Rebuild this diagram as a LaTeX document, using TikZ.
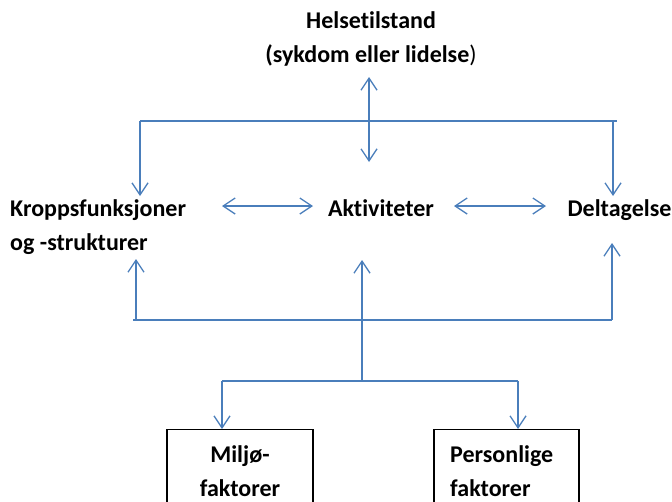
\documentclass[tikz,border=0pt]{standalone}
\usepackage{fontspec}
\setmainfont{Carlito}[Ligatures=NoCommon]
\usetikzlibrary{arrows.meta}
\definecolor{lineblue}{HTML}{4A7EBB}
\begin{document}
\begin{tikzpicture}[x=1pt,y=-1pt,
  conn/.style={draw=lineblue, line width=1.3pt},
  tipend/.tip={Straight Barb[length=12pt,width=16pt]},
  arr/.style={conn, -tipend},
  darr/.style={conn, tipend-tipend},
  lab/.style={font=\bfseries\fontsize{24}{34}\selectfont, inner sep=0pt},
  boxnode/.style={draw=black, line width=1.3pt, minimum height=100pt, anchor=north, inner sep=0pt}]
\useasboundingbox (0,0) rectangle (672,501);
\clip (0,0) rectangle (672,501);

% texts (base anchor = baseline of the last line)
\node[lab, anchor=base, align=center] (helse) at (371,62) {Helsetilstand\\(sykdom eller lidelse{\mdseries)}};
\node[lab, anchor=base west, align=left] (kropp) at (10,250) {Kroppsfunksjoner\\og -strukturer};
\node[lab, anchor=base] (akt) at (381,216) {Aktiviteter};
\node[lab, anchor=base] (delt) at (619.5,216) {Deltagelse};

% boxes
\node[boxnode, minimum width=146pt] (miljobox) at (240,429) {};
\node[boxnode, minimum width=145pt] (persbox) at (506.5,429) {};
\node[lab, anchor=base, align=center] (miljo) at (240,496) {Miljø-\\faktorer};
\node[lab, anchor=base west, align=left] (pers) at (450,496) {Personlige\\faktorer};

% coordinates
\coordinate (hT) at (369,77);
\coordinate (hB) at (369,162);
\coordinate (tL) at (140,121);
\coordinate (tR) at (617,121);
\coordinate (tRv) at (613,121);
\coordinate (kT) at (140,196);
\coordinate (dT) at (613,196);
\coordinate (kaL) at (222,206);
\coordinate (kaR) at (313,206);
\coordinate (adL) at (454,206);
\coordinate (adR) at (546,206);
\coordinate (bL) at (133,320);
\coordinate (bR) at (612,320);
\coordinate (bLv) at (136,320);
\coordinate (kB) at (136,259);
\coordinate (dB) at (612,243);
\coordinate (aB) at (362,260);
\coordinate (mJ) at (362,381);
\coordinate (fL) at (222,381);
\coordinate (fR) at (518,381);

% connectors
\draw[darr] (hT) -- (hB);
\draw[conn] (tL) -- (tR);
\draw[arr] (tL) -- (kT);
\draw[arr] (tRv) -- (dT);
\draw[darr] (kaL) -- (kaR);
\draw[darr] (adL) -- (adR);
\draw[conn] (bL) -- (bR);
\draw[arr] (bLv) -- (kB);
\draw[arr] (bR) -- (dB);
\draw[arr] (mJ) -- (aB);
\draw[conn] (fL) -- (fR);
\draw[arr] (fL) -- (miljobox.north -| fL);
\draw[arr] (fR) -- (persbox.north -| fR);
\end{tikzpicture}
\end{document}
